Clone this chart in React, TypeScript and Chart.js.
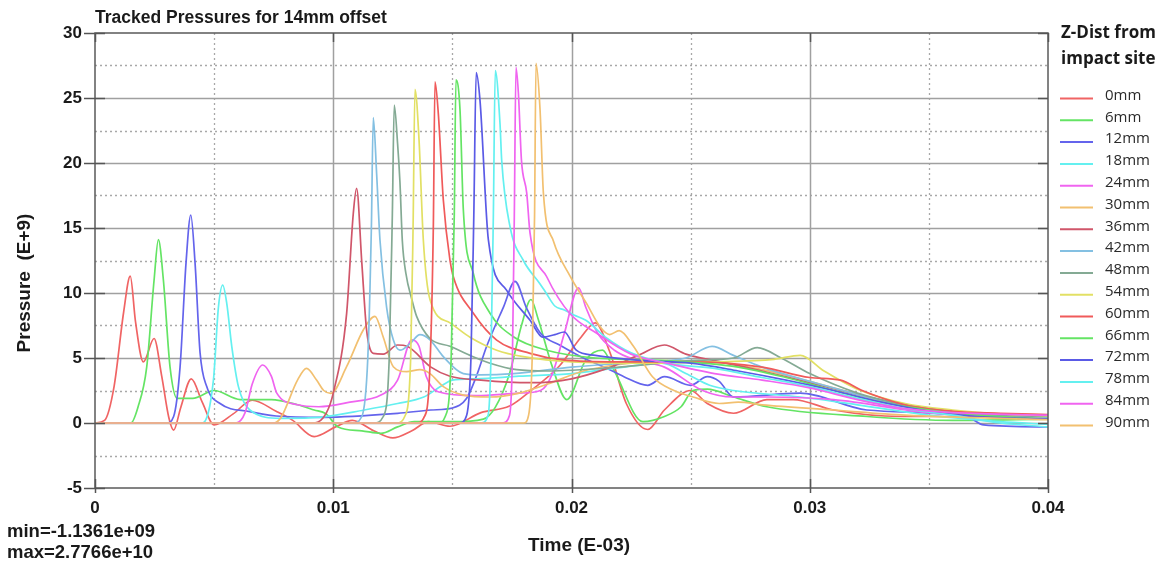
import React, { useEffect, useRef } from "react";
import { Chart, registerables } from "chart.js";
Chart.register(...registerables);

// ---------- data (x in axis units "Time (E-03)", y in E+9) ----------
const seriesLabels = ["0mm", "6mm", "12mm", "18mm", "24mm", "30mm", "36mm", "42mm", "48mm", "54mm", "60mm", "66mm", "72mm", "78mm", "84mm", "90mm"];
const seriesColors = ["#f06464", "#64e464", "#6464ec", "#64f0f0", "#f064f0", "#f2c070", "#d0566a", "#84c0e2", "#84aa94", "#e2e064", "#f05a5a", "#64e464", "#5a5ae6", "#64f0f0", "#f064f0", "#f2c070"];

const xTicks = [0, 0.01, 0.02, 0.03, 0.04];
const yTicks = [-5, 0, 5, 10, 15, 20, 25, 30];
const xMinorGrid = [0.005, 0.015, 0.025, 0.035];
const xMajorGrid = [0.01, 0.02, 0.03];
const yMinorGrid = [-2.5, 2.5, 7.5, 12.5, 17.5, 22.5, 27.5];
const yMajorGrid = [0, 5, 10, 15, 20, 25];

const d0mm = [[0,0],[0.0004,0.2],[0.0008,2.8],[0.0012,8.5],[0.00148,11.3],[0.0017,7.8],[0.00203,4.7],[0.00248,6.5],[0.0028,3.6],[0.0031,0.4],[0.0033,-0.55],[0.0036,1.2],[0.00404,3.4],[0.0045,1.6],[0.005,-0.15],[0.0058,0.7],[0.0066,1.75],[0.0076,0.9],[0.0083,0.2],[0.0092,-1.05],[0.0101,-0.3],[0.0108,0.2],[0.0117,-0.6],[0.0125,-1.15],[0.0133,-0.6],[0.014,0.1],[0.0149,-0.25],[0.0162,0.8],[0.0174,1.3],[0.0183,2.5],[0.0195,4.4],[0.0204,6.6],[0.021,7.7],[0.0216,5.5],[0.0223,1.5],[0.0232,-0.5],[0.0239,1.0],[0.025,2.5],[0.0257,1.5],[0.0268,0.75],[0.0282,1.8],[0.0293,1.8],[0.031,1.0],[0.0338,0.5],[0.04,0.5]];
const d6mm = [[0,0],[0.0015,0],[0.0018,1.2],[0.00217,4.3],[0.00248,11],[0.00266,14.1],[0.00287,11],[0.00315,4.3],[0.00345,1.9],[0.0041,1.9],[0.005,2.5],[0.0061,1.8],[0.0074,1.8],[0.0085,1.4],[0.0092,1.0],[0.0097,0.7],[0.0102,-0.3],[0.0112,-0.6],[0.012,-0.8],[0.0127,-0.3],[0.0134,0.1],[0.015,0.1],[0.0163,0.3],[0.0168,1.2],[0.0174,3.8],[0.0179,7.5],[0.0183,9.5],[0.0186,8.0],[0.0192,4.3],[0.0198,1.8],[0.0206,4.85],[0.0213,5.6],[0.0218,4.0],[0.023,0.1],[0.0239,0.5],[0.0246,1.25],[0.0251,2.5],[0.0257,2.6],[0.0268,2.0],[0.0282,1.25],[0.0324,0.5],[0.036,0.2],[0.04,0.3]];
const d12mm = [[0,0],[0.003,0],[0.0033,0.5],[0.00357,4.3],[0.00382,12.3],[0.00402,16.0],[0.0042,12.3],[0.00441,5.4],[0.00469,2.8],[0.00525,1.5],[0.0065,0.87],[0.0076,0.54],[0.0096,0.44],[0.0127,0.74],[0.0141,1.0],[0.015,1.15],[0.0156,1.9],[0.016,3.56],[0.01644,5.9],[0.01714,8.9],[0.01763,10.9],[0.0181,8.9],[0.0187,6.9],[0.0195,6.0],[0.0205,5.0],[0.0215,4.2],[0.0222,3.56],[0.0232,2.9],[0.0239,3.56],[0.025,2.9],[0.0257,3.56],[0.0262,3.2],[0.0268,2.0],[0.0296,2.3],[0.0324,1.0],[0.0366,0.5],[0.0373,-0.15],[0.04,-0.3]];
const d18mm = [[0,0],[0.0045,0],[0.00497,3.3],[0.00518,8.9],[0.00536,10.6],[0.00553,9.2],[0.00574,5.9],[0.00602,2.8],[0.0065,1.0],[0.0078,0.36],[0.0095,0.45],[0.0113,1.0],[0.0127,1.5],[0.0138,2.0],[0.0145,2.8],[0.015,3.3],[0.016,3.4],[0.0178,3.6],[0.02,3.8],[0.0222,4.3],[0.0238,4.6],[0.0248,3.8],[0.0258,2.9],[0.0268,2.5],[0.0296,2.0],[0.032,1.4],[0.035,0.6],[0.038,0.1],[0.04,-0.1]];
const d24mm = [[0,0],[0.0059,0],[0.0063,0.8],[0.0066,3.0],[0.00704,4.46],[0.0074,3.6],[0.00763,2.3],[0.0085,1.4],[0.0094,1.25],[0.0107,1.6],[0.012,2.15],[0.0127,3.3],[0.0133,6.4],[0.0136,5.9],[0.0139,3.6],[0.0144,2.4],[0.016,2.1],[0.0178,2.3],[0.0187,2.5],[0.0192,3.8],[0.0197,6.9],[0.0203,10.4],[0.0206,8.9],[0.0211,6.9],[0.0218,5.6],[0.0227,4.85],[0.0239,4.3],[0.0255,2.5],[0.0268,2.0],[0.0282,2.0],[0.031,1.8],[0.0352,0.75],[0.04,0.5]];
const d30mm = [[0,0],[0.0075,0],[0.0078,0.4],[0.0085,3.3],[0.00888,4.2],[0.0093,3.3],[0.0096,2.5],[0.0099,2.28],[0.01056,4.33],[0.01126,7.15],[0.01175,8.2],[0.0121,6.6],[0.01252,4.33],[0.01308,3.95],[0.01364,4.1],[0.01406,3.8],[0.01462,2.8],[0.01546,2.15],[0.01658,2.0],[0.0178,2.3],[0.019,3.0],[0.0205,4.0],[0.022,4.5],[0.024,4.8],[0.026,4.7],[0.028,4.1],[0.03,3.2],[0.032,2.2],[0.034,1.3],[0.036,0.85],[0.038,0.6],[0.04,0.5]];
const d36mm = [[0,0],[0.0092,0],[0.0097,0.74],[0.01,2.3],[0.01056,8.4],[0.01084,16.1],[0.01098,18.05],[0.0112,12.3],[0.0114,7.15],[0.01168,5.36],[0.0121,5.3],[0.0127,6.0],[0.0131,5.9],[0.0141,4.3],[0.0149,3.6],[0.0162,3.3],[0.0183,3.1],[0.02,3.4],[0.0215,4.2],[0.0228,5.2],[0.0239,6.0],[0.0248,5.3],[0.026,4.8],[0.028,4.0],[0.03,3.1],[0.032,2.2],[0.034,1.4],[0.036,0.9],[0.038,0.65],[0.04,0.5]];
const d42mm = [[0,0],[0.0108,0],[0.0112,0.5],[0.01145,5],[0.0116,15],[0.01168,23.5],[0.01182,19.2],[0.01196,14.1],[0.01224,8.9],[0.01252,6.4],[0.0128,5.6],[0.01322,6.1],[0.01364,6.8],[0.01406,6.4],[0.01462,5.1],[0.01546,3.8],[0.01616,3.7],[0.01756,3.8],[0.02,4.3],[0.023,4.7],[0.0248,5.0],[0.0259,5.9],[0.0268,5.2],[0.028,4.3],[0.03,3.2],[0.032,2.2],[0.034,1.3],[0.036,0.8],[0.038,0.6],[0.04,0.45]];
const d48mm = [[0,0],[0.0117,0],[0.0121,0.5],[0.01235,5],[0.01248,16],[0.01256,24.46],[0.0127,21.5],[0.0128,18.5],[0.0129,14],[0.01305,11.5],[0.0133,9.5],[0.0135,8.2],[0.01406,6.5],[0.0149,5.9],[0.01574,5.2],[0.01658,4.6],[0.0177,4.1],[0.019,4.0],[0.022,4.3],[0.025,4.8],[0.0268,5.0],[0.0278,5.8],[0.0288,5.0],[0.03,3.8],[0.032,2.3],[0.034,1.4],[0.036,0.9],[0.038,0.6],[0.04,0.5]];
const d54mm = [[0,0],[0.0127,0],[0.013,0.5],[0.01325,5],[0.01335,15],[0.01343,25.67],[0.0136,21.8],[0.01378,14.1],[0.01406,9.5],[0.0149,7.7],[0.01574,6.6],[0.01686,5.6],[0.01798,5.1],[0.02,4.7],[0.023,4.6],[0.026,4.7],[0.0285,4.9],[0.0296,5.2],[0.0306,4.0],[0.032,2.6],[0.034,1.5],[0.036,1.0],[0.038,0.7],[0.04,0.55]];
const d60mm = [[0,0],[0.0135,0],[0.0138,0.4],[0.01405,4],[0.0142,15],[0.01427,26.25],[0.01441,23.8],[0.01462,17.15],[0.0149,12.5],[0.01504,11.25],[0.01588,8.44],[0.01686,6.38],[0.01826,5.36],[0.01965,4.85],[0.022,4.7],[0.025,4.7],[0.028,4.3],[0.03,3.5],[0.0313,3.3],[0.0322,2.5],[0.034,1.4],[0.036,0.9],[0.038,0.75],[0.04,0.65]];
const d66mm = [[0,0],[0.0144,0],[0.0147,0.5],[0.01495,5],[0.01508,16],[0.01515,26.4],[0.01532,24.1],[0.01546,16.4],[0.01588,11.5],[0.01658,8.44],[0.01756,6.64],[0.01896,5.6],[0.021,5.0],[0.024,4.8],[0.027,4.3],[0.029,3.5],[0.031,2.5],[0.033,1.6],[0.035,1.0],[0.037,0.6],[0.04,0.3]];
const d72mm = [[0,0],[0.0153,0],[0.0156,0.6],[0.01578,5],[0.0159,16],[0.016,26.95],[0.01616,24.8],[0.01651,14.1],[0.01728,10.2],[0.01826,7.9],[0.0188,6.6],[0.0193,6.8],[0.0197,7.0],[0.0202,5.6],[0.021,5.2],[0.023,4.8],[0.025,4.6],[0.027,4.0],[0.029,3.3],[0.031,2.5],[0.033,1.6],[0.035,0.9],[0.037,0.5],[0.04,0.3]];
const d78mm = [[0,0],[0.0162,0],[0.0165,0.6],[0.01662,5],[0.01672,16],[0.0168,27.1],[0.017,23],[0.01707,20.2],[0.01742,15.1],[0.01798,12.5],[0.01868,10.7],[0.0189,10.1],[0.0193,9.0],[0.0197,8.7],[0.0201,8.3],[0.0206,7.9],[0.0215,6.5],[0.0225,5.4],[0.024,4.6],[0.026,4.2],[0.028,3.5],[0.03,2.8],[0.032,1.9],[0.034,1.1],[0.036,0.6],[0.038,0.0],[0.04,-0.3]];
const d84mm = [[0,0],[0.0171,0],[0.0174,0.6],[0.01752,5],[0.0176,16],[0.01767,27.36],[0.01777,25.4],[0.0179,20.2],[0.01812,17.7],[0.01826,14.6],[0.01896,11.25],[0.01994,8.4],[0.02106,6.9],[0.0225,5.3],[0.024,4.6],[0.026,3.8],[0.028,3.3],[0.03,2.7],[0.032,1.8],[0.034,1.1],[0.036,0.8],[0.04,0.6]];
const d90mm = [[0,0],[0.018,0],[0.0182,0.6],[0.01835,5],[0.01845,16],[0.01851,27.67],[0.01868,24.1],[0.01882,17.7],[0.01924,14.0],[0.01994,11.3],[0.02063,9.2],[0.0212,7.4],[0.0216,6.8],[0.022,7.1],[0.0226,5.9],[0.0234,3.56],[0.0243,2.5],[0.0251,2.0],[0.0262,1.5],[0.027,1.6],[0.028,1.4],[0.031,1.0],[0.034,0.6],[0.04,0.25]];

const allSeries = [d0mm, d6mm, d12mm, d18mm, d24mm, d30mm, d36mm, d42mm, d48mm, d54mm, d60mm, d66mm, d72mm, d78mm, d84mm, d90mm];

const titleText = "Tracked Pressures for 14mm offset";
const xTitle = "Time (E-03)";
const yTitle = "Pressure  (E+9)";
const minText = "min=-1.1361e+09";
const maxText = "max=2.7766e+10";
const legendTitle = ["Z-Dist from", "impact site"];

const ARIAL = "'Liberation Sans', Arial, sans-serif";
const LEG = "'Open Sans', 'Noto Sans', sans-serif";

const decor = {
  id: "decor",
  beforeDatasetsDraw(chart: any) {
    const { ctx, chartArea, scales } = chart;
    const { left, right, top, bottom } = chartArea;
    const x = scales.x, y = scales.y;
    ctx.save();
    ctx.lineWidth = 1.3;
    ctx.strokeStyle = "#a8a8a8";
    ctx.setLineDash([2, 3]);
    for (const v of yMinorGrid) {
      const p = Math.round(y.getPixelForValue(v)) + 0.5;
      ctx.beginPath(); ctx.moveTo(left, p); ctx.lineTo(right, p); ctx.stroke();
    }
    for (const v of xMinorGrid) {
      const p = Math.round(x.getPixelForValue(v)) + 0.5;
      ctx.beginPath(); ctx.moveTo(p, top); ctx.lineTo(p, bottom); ctx.stroke();
    }
    ctx.setLineDash([]);
    ctx.strokeStyle = "#a0a0a0";
    ctx.lineWidth = 1.5;
    for (const v of yMajorGrid) {
      const p = Math.round(y.getPixelForValue(v)) + 0.5;
      ctx.beginPath(); ctx.moveTo(left, p); ctx.lineTo(right, p); ctx.stroke();
    }
    for (const v of xMajorGrid) {
      const p = Math.round(x.getPixelForValue(v)) + 0.5;
      ctx.beginPath(); ctx.moveTo(p, top); ctx.lineTo(p, bottom); ctx.stroke();
    }
    ctx.restore();
  },
  afterDatasetsDraw(chart: any) {
    const { ctx, chartArea, scales } = chart;
    const { left, right, top, bottom } = chartArea;
    const x = scales.x, y = scales.y;
    ctx.save();
    // border
    ctx.strokeStyle = "#5a5a5a";
    ctx.lineWidth = 1.5;
    ctx.strokeRect(left, top, right - left, bottom - top);
    // tick marks
    ctx.strokeStyle = "#555";
    for (const v of yTicks) {
      const p = Math.round(y.getPixelForValue(v)) + 0.5;
      ctx.beginPath(); ctx.moveTo(left - 11, p); ctx.lineTo(left + 10, p); ctx.stroke();
      ctx.beginPath(); ctx.moveTo(right - 10, p); ctx.lineTo(right, p); ctx.stroke();
    }
    for (const v of xTicks) {
      const p = Math.round(x.getPixelForValue(v)) + 0.5;
      ctx.beginPath(); ctx.moveTo(p, bottom - 9); ctx.lineTo(p, bottom + 5); ctx.stroke();
      ctx.beginPath(); ctx.moveTo(p, top); ctx.lineTo(p, top + 9); ctx.stroke();
    }
    // texts
    ctx.fillStyle = "#1a1a1a";
    ctx.textBaseline = "middle";
    ctx.textAlign = "left";
    ctx.font = `bold 17.5px ${ARIAL}`;
    ctx.fillText(titleText, left, 18);
    ctx.font = `bold 19px ${ARIAL}`;
    ctx.textAlign = "center";
    ctx.fillText(xTitle, 579, 546);
    ctx.save();
    ctx.translate(25, 283);
    ctx.rotate(-Math.PI / 2);
    ctx.fillText(yTitle, 0, 0);
    ctx.restore();
    ctx.textAlign = "left";
    ctx.font = `bold 18.5px ${ARIAL}`;
    ctx.fillText(minText, 7, 532);
    ctx.fillText(maxText, 7, 553);
    // legend
    ctx.font = `bold 17px ${LEG}`;
    ctx.fillStyle = "#1a1a1a";
    ctx.fillText(legendTitle[0], 1061, 33);
    ctx.fillText(legendTitle[1], 1061, 59);
    ctx.font = `15px ${LEG}`;
    chart.data.datasets.forEach((ds: any, i: number) => {
      const ry = 98.5 + i * 21.8;
      ctx.strokeStyle = ds.borderColor;
      ctx.lineWidth = 2;
      ctx.beginPath(); ctx.moveTo(1060, ry); ctx.lineTo(1093, ry); ctx.stroke();
      ctx.fillStyle = "#2a2a2a";
      ctx.fillText(ds.label, 1105, ry - 3);
    });
    ctx.restore();
  },
};

export default function App() {
  const ref = useRef<HTMLCanvasElement>(null);
  useEffect(() => {
    document.body.style.margin = "0";
    const canvas = ref.current!;
    const chart = new Chart(canvas, {
      type: "line",
      data: {
        datasets: allSeries.map((s, i) => ({
          label: seriesLabels[i],
          data: s.map(([px, py]) => ({ x: px, y: py })),
          borderColor: seriesColors[i],
          backgroundColor: seriesColors[i],
          borderWidth: 1.7,
          pointRadius: 0,
          fill: false,
          cubicInterpolationMode: "monotone",
          order: allSeries.length - 1 - i,
        })),
      },
      options: {
        animation: false,
        responsive: false,
        maintainAspectRatio: false,
        layout: { padding: { top: 33, right: 121, left: 0, bottom: 0 } },
        plugins: { legend: { display: false }, tooltip: { enabled: false }, title: { display: false } },
        scales: {
          x: {
            type: "linear",
            min: 0,
            max: 0.04,
            grid: { display: false, drawTicks: false },
            border: { display: false },
            afterBuildTicks: (s: any) => { s.ticks = xTicks.map((v) => ({ value: v })); },
            afterFit: (s: any) => { s.height = 75; },
            ticks: {
              padding: 10,
              autoSkip: false,
              maxRotation: 0,
              color: "#1a1a1a",
              font: { family: ARIAL, size: 17, weight: "bold" },
              callback: (v: any) => String(Number(Number(v).toFixed(3))),
            },
          },
          y: {
            type: "linear",
            min: -5,
            max: 30,
            grid: { display: false, drawTicks: false },
            border: { display: false },
            afterBuildTicks: (s: any) => { s.ticks = yTicks.map((v) => ({ value: v })); },
            afterFit: (s: any) => { s.width = 95; },
            ticks: {
              padding: 13,
              autoSkip: false,
              color: "#1a1a1a",
              font: { family: ARIAL, size: 17, weight: "bold" },
              callback: (v: any) => String(v),
            },
          },
        },
      },
      plugins: [decor],
    } as any);
    return () => chart.destroy();
  }, []);
  return (
    <div style={{ width: 1169, height: 563, background: "#fff" }}>
      <canvas ref={ref} width={1169} height={563} style={{ display: "block" }} />
    </div>
  );
}
